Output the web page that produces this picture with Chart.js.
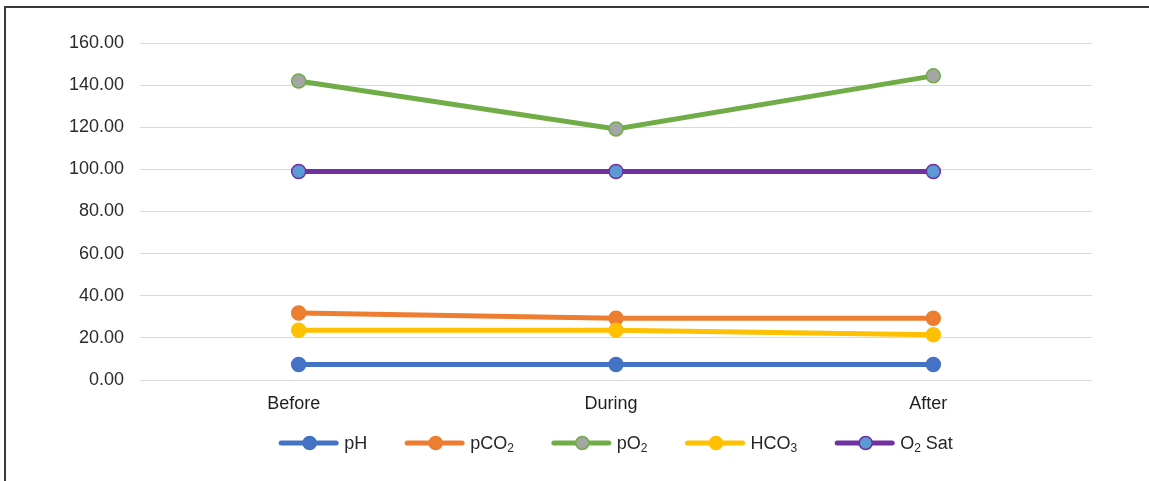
<!DOCTYPE html>
<html>
<head>
<meta charset="utf-8">
<script src="https://cdn.jsdelivr.net/npm/chart.js@4/dist/chart.umd.min.js"></script>
<style>
  html, body { margin: 0; padding: 0; background: #fff; }
  #wrap { position: relative; width: 1149px; height: 481px; }
  #frame { position: absolute; left: 4px; top: 6px; right: 0; bottom: 0;
           border-left: 2px solid #3a3a3a; border-top: 2px solid #3a3a3a; pointer-events: none; }
  canvas { position: absolute; left: 0; top: 0; }
</style>
</head>
<body>
<div id="wrap">
  <canvas id="c" width="1149" height="481"></canvas>
  <div id="frame"></div>
</div>
<script>
// Blood gas readings at three time points
const categories = ['Before', 'During', 'After'];
const seriesLabels = ['pH', 'pCO₂', 'pO₂', 'HCO₃', 'O₂ Sat'];
const pH = [7.4, 7.4, 7.4];
const pCO2 = [31.8, 29.3, 29.3];
const pO2 = [142.0, 119.2, 144.4];
const HCO3 = [23.6, 23.6, 21.5];
const O2Sat = [99.0, 99.0, 99.0];
const yTicks = [0, 20, 40, 60, 80, 100, 120, 140, 160];

const lineColors = ['#4472C4', '#ED7D31', '#70AD47', '#FFC000', '#7030A0'];
const markerFills = ['#4472C4', '#ED7D31', '#A5A5A5', '#FFC000', '#5B9BD5'];
const seriesValues = [pH, pCO2, pO2, HCO3, O2Sat];

const FAMILY = '"Liberation Sans", Arial, sans-serif';
const font = { family: FAMILY, size: 18 };

// Split a label into normal runs and subscript digits (₀–₉)
function splitSub(text) {
  const parts = [];
  for (const ch of text) {
    const code = ch.codePointAt(0);
    const sub = code >= 0x2080 && code <= 0x2089;
    const c = sub ? String(code - 0x2080) : ch;
    const last = parts[parts.length - 1];
    if (last && last.sub === sub) last.text += c; else parts.push({ text: c, sub });
  }
  return parts;
}

// Legend drawn below the axis: line swatch with marker, then the label with real subscripts
const lineLegend = {
  id: 'lineLegend',
  afterDraw(chart) {
    const ctx = chart.ctx;
    const sw = 59, textGap = 6, itemGap = 38, cy = 443;
    const normal = `18px ${FAMILY}`, small = `12px ${FAMILY}`;
    const measure = parts => parts.reduce((w, p) => {
      ctx.font = p.sub ? small : normal; return w + ctx.measureText(p.text).width;
    }, 0);
    const items = chart.data.datasets.map(d => {
      const parts = splitSub(d.label);
      return { d, parts, w: sw + textGap + measure(parts) };
    });
    const total = items.reduce((s, it) => s + it.w, 0) + itemGap * (items.length - 1);
    const area = chart.chartArea;
    let x = (area.left + area.right) / 2 - total / 2;
    ctx.save();
    items.forEach(({ d, parts, w }) => {
      ctx.strokeStyle = d.borderColor; ctx.lineWidth = 5; ctx.lineCap = 'round';
      ctx.beginPath(); ctx.moveTo(x + 2, cy); ctx.lineTo(x + sw - 2, cy); ctx.stroke();
      ctx.fillStyle = d.pointBackgroundColor; ctx.lineWidth = 1.5;
      ctx.beginPath(); ctx.arc(x + sw / 2 + 1, cy, 6.5, 0, Math.PI * 2); ctx.fill(); ctx.stroke();
      let tx = x + sw + textGap;
      ctx.fillStyle = '#262626'; ctx.textBaseline = 'middle'; ctx.textAlign = 'left';
      parts.forEach(p => {
        ctx.font = p.sub ? small : normal;
        ctx.fillText(p.text, tx, p.sub ? cy + 6 : cy + 1);
        tx += ctx.measureText(p.text).width;
      });
      x += w + itemGap;
    });
    ctx.restore();
  }
};

const datasets = seriesLabels.map((label, i) => ({
  label,
  data: seriesValues[i],
  borderColor: lineColors[i],
  backgroundColor: markerFills[i],
  borderWidth: 5,
  pointRadius: 7,
  pointHoverRadius: 7,
  pointBorderWidth: 1.5,
  pointBorderColor: lineColors[i],
  pointBackgroundColor: markerFills[i],
  tension: 0,
  order: seriesLabels.length - i
}));

new Chart(document.getElementById('c'), {
  type: 'line',
  data: { labels: categories, datasets },
  options: {
    responsive: false,
    animation: false,
    events: [],
    layout: { padding: { left: 0, right: 57, top: 43, bottom: 56 } },
    scales: {
      x: {
        offset: true,
        grid: { display: false, drawTicks: false },
        border: { display: false },
        ticks: { color: '#1f1f1f', font, padding: 13, maxRotation: 0, labelOffset: -5 },
        afterFit(s) { s.height = 45; }
      },
      y: {
        min: 0, max: 160,
        afterBuildTicks(s) { s.ticks = yTicks.map(v => ({ value: v })); },
        grid: { color: '#D9D9D9', lineWidth: 1, drawTicks: false },
        border: { display: false },
        ticks: { color: '#2b2b2b', font, padding: 16, callback: v => Number(v).toFixed(2) },
        afterFit(s) { s.width = 140; }
      }
    },
    plugins: {
      tooltip: { enabled: false },
      legend: { display: false }
    }
  },
  plugins: [lineLegend]
});
</script>
</body>
</html>
